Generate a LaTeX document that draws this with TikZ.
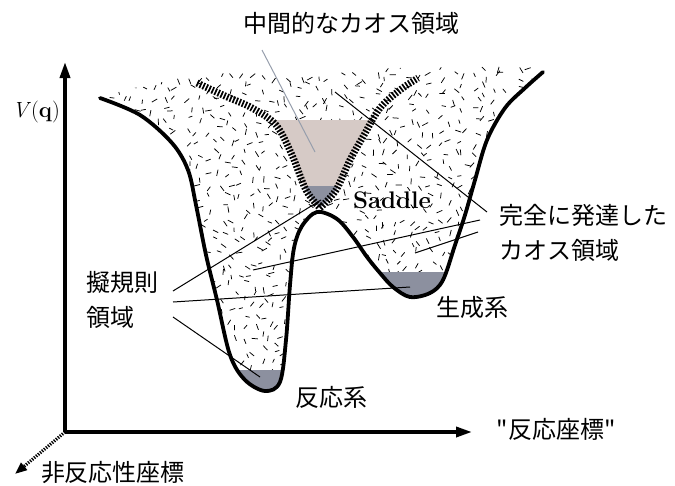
\documentclass[tikz,border=0pt]{standalone}
\usepackage{fontspec}
\newfontfamily\jp{Noto Sans CJK JP}
\usetikzlibrary{arrows.meta}
\definecolor{midtan}{RGB}{214,202,198}
\definecolor{wellgray}{RGB}{140,144,159}
\definecolor{leadgray}{RGB}{150,158,172}
\newcommand\potpath{plot[smooth,tension=0.55] coordinates {(100,98) (140,115) (172,143) (188,170) (196,205) (206,255) (217,300) (230,355) (245,380) (265,391) (280,382) (286,340) (290,285) (294,248) (302,226) (317,212) (337,219) (353,237) (367,257) (380,273) (393,287) (410,297) (430,293) (443,280) (455,245) (465,215) (475,180) (487,140) (505,108) (525,88) (543,72)}}
\newcommand\hatchleft{plot[smooth,tension=0.55] coordinates {(197,83) (225,96) (252,108) (276,125) (292,155) (306,190) (320,208)}}
\newcommand\hatchright{plot[smooth,tension=0.55] coordinates {(320,208) (336,190) (350,160) (364,135) (380,108) (400,90) (418,78)}}
\begin{document}
\begin{tikzpicture}[x=1pt,y=-1pt,
  jlabel/.style={inner sep=0pt,font=\jp\fontsize{24}{35}\selectfont},
  speck/.style={line width=0.75pt,black},
  pot/.style={line width=3.8pt,black,line cap=round,line join=round},
  axis/.style={line width=3.5pt,black,-{Triangle[width=10pt,length=16pt]}},
  leader/.style={line width=1pt,black},
  hatch/.style={line width=7pt,black,dash pattern=on 1.7pt off 1.6pt}]
\useasboundingbox (0,0) rectangle (675,485);
\pgfmathsetseed{7}
% speckled region
\begin{scope}
\clip \potpath -- (545,66) -- (400,68) -- (200,74) -- (125,90) -- cycle;
\foreach \gx in {100,111,...,550} {
  \foreach \gy in {64,75,...,400} {
    \pgfmathsetmacro\px{\gx+4.5*rand}
    \pgfmathsetmacro\py{\gy+4.5*rand}
    \pgfmathsetmacro\an{180*rnd}
    \pgfmathsetmacro\ln{4+2.5*rnd}
    \draw[speck] (\px,\py) -- ++(\an:\ln);
  }
}
\end{scope}
% wells
\begin{scope}
\clip \potpath -- (545,40) -- (100,40) -- cycle;
\fill[wellgray] (225,370) rectangle (300,400);
\fill[wellgray] (360,272) rectangle (460,310);
\end{scope}
% intermediate region
\begin{scope}
\clip plot[smooth,tension=0.55] coordinates {(197,83) (225,96) (252,108) (276,125) (292,155) (306,190) (320,208)} -- plot[smooth,tension=0.55] coordinates {(320,208) (336,190) (350,160) (364,135) (380,108) (400,90) (418,78)} -- cycle;
\fill[midtan] (240,120) rectangle (410,186);
\fill[wellgray] (240,186) rectangle (410,215);
\end{scope}
\draw[hatch] \hatchleft;
\draw[hatch] \hatchright;
% potential
\draw[pot] \potpath;
% axes
\coordinate (O) at (65,432);
\coordinate (Vtip) at (65,62);
\coordinate (Rtip) at (472,432);
\coordinate (Ntip) at (15,474);
\draw[axis] (O) -- (Vtip);
\draw[axis] (O) -- (Rtip);
\draw[line width=3.2pt,dash pattern=on 1.3pt off 1.3pt,-{Triangle[width=9pt,length=12pt]}] (O) -- (Ntip);
% labels
\node[jlabel] (mid) at (351,23) {中間的なカオス領域};
\node[jlabel,anchor=west,align=left] (full) at (499,233) {完全に発達した\\カオス領域};
\node[jlabel,anchor=west,align=left] (reg) at (86,300) {擬規則\\領域};
\node[jlabel] (prod) at (472,307) {生成系};
\node[jlabel] (reac) at (331,397) {反応系};
\node[jlabel] (rc) at (556,429) {"反応座標"};
\node[jlabel] (nrc) at (113,473) {非反応性座標};
\node[inner sep=0pt,anchor=east,font=\fontsize{22}{26}\selectfont] (V) at (60,112) {\textit{V}(\textbf{q})};
\node[inner sep=0pt,font=\fontsize{24}{28}\selectfont\bfseries] (sad) at (392,200) {Saddle};
% leader lines
\coordinate (m1) at (262,50);  \coordinate (m2) at (315,152);
\draw[leadgray,line width=1pt] (m1) -- (m2);
\coordinate (a1s) at (487,212); \coordinate (a1e) at (335,92);
\coordinate (a2s) at (480,220); \coordinate (a2e) at (253,270);
\coordinate (a3s) at (478,232); \coordinate (a3e) at (415,253);
\draw[leader] (a1s) -- (a1e);
\draw[leader] (a2s) -- (a2e);
\draw[leader] (a3s) -- (a3e);
\coordinate (b1s) at (173,291); \coordinate (b1e) at (321,200);
\coordinate (b2s) at (173,302); \coordinate (b2e) at (410,287);
\coordinate (b3s) at (173,317); \coordinate (b3e) at (260,377);
\draw[leader] (b1s) -- (b1e);
\draw[leader] (b2s) -- (b2e);
\draw[leader] (b3s) -- (b3e);
\end{tikzpicture}
\end{document}
